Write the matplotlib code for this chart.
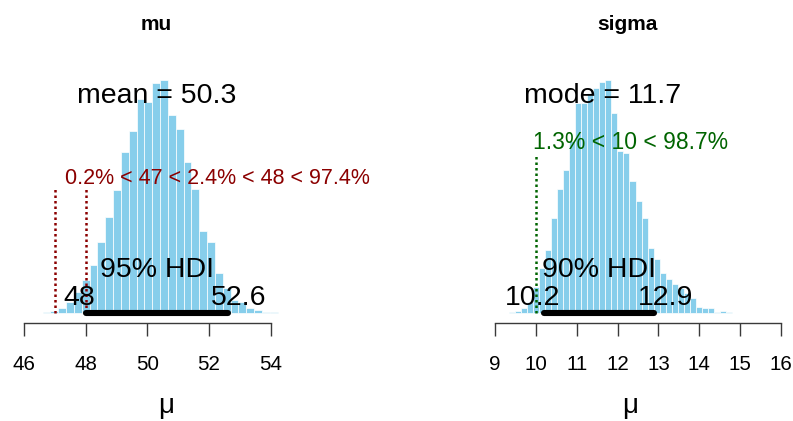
import numpy as np
import matplotlib
matplotlib.use("Agg")
import matplotlib.pyplot as plt

plt.rcParams['font.family'] = ['Liberation Sans', 'DejaVu Sans']

# ---------------- data ----------------
mu_bin_start = 46.60
mu_bin_width = 0.254
mu_heights = [1.3, 2.5, 5.5, 11, 21.5, 33, 48.3, 71.7, 96.7, 123.3,
              161.7, 182.3, 214, 211.7, 230.7, 233.3, 198.3, 184, 151.7, 124,
              82.3, 71.7, 40.7, 25, 13.3, 11.7, 5.7, 3.3, 1.7, 1.7]
mu_mean = 50.3
mu_hdi = [48.0, 52.6]
mu_comp = [47, 48]
mu_comp_text = "0.2% < 47 < 2.4% < 48 < 97.4%"
mu_ticks = [46, 48, 50, 52, 54]

sigma_bin_start = 9.33
sigma_bin_width = 0.148
sigma_heights = [1, 2.7, 5.3, 11, 26.5, 45, 63, 95.6, 124, 143.5,
                 172.6, 210, 210, 220.7, 225, 231, 233.3, 200, 162.6, 160,
                 132.6, 112.6, 95, 65, 54, 40, 34, 29, 25, 20,
                 15, 6.7, 5.6, 5, 1.7, 2.3, 1.7]
sigma_mode = 11.7
sigma_hdi = [10.2, 12.9]
sigma_comp = [10]
sigma_comp_text = "1.3% < 10 < 98.7%"
sigma_ticks = [9, 10, 11, 12, 13, 14, 15, 16]

W, H = 793, 421
fig = plt.figure(figsize=(W / 100, H / 100), dpi=100)

BAR = '#87CEEB'
AX_COL = '#3a3a3a'


def make_ax(left_px, width_px):
    bottom_px = 323.3
    ax = fig.add_axes([left_px / W, (H - bottom_px) / H, width_px / W, 300 / H])
    ax.set_ylim(-10, 290)
    for s in ('left', 'right', 'top'):
        ax.spines[s].set_visible(False)
    ax.spines['bottom'].set_color(AX_COL)
    ax.spines['bottom'].set_linewidth(1.0)
    ax.set_yticks([])
    ax.tick_params(axis='x', length=9.2, width=1.0, color=AX_COL,
                   labelsize=14.8, pad=13.5, labelcolor='black')
    ax.patch.set_alpha(0)
    return ax


def hist(ax, start, width, heights):
    edges = start + width * np.arange(len(heights) + 1)
    ax.bar(edges[:-1], heights, width=width, align='edge', color=BAR,
           edgecolor='white', linewidth=0.5, zorder=1)


def adj_text(ax, x, y, s, frac, **kw):
    t = ax.text(x, y, s, ha='left', va='baseline', **kw)
    r = fig.canvas.get_renderer()
    w = t.get_window_extent(r).width
    xd = ax.transData.transform((x, 0))[0] - frac * w
    t.set_x(ax.transData.inverted().transform((xd, 0))[0])
    return t


BIG = 20.5
MID = 15.5

# ---------------- mu panel ----------------
ax1 = make_ax(11.66, 271.4)
ax1.set_xlim(45.6, 54.4)
hist(ax1, mu_bin_start, mu_bin_width, mu_heights)
ax1.set_xticks(mu_ticks)
ax1.spines['bottom'].set_bounds(mu_ticks[0], mu_ticks[-1])
for c in mu_comp:
    ax1.plot([c, c], [0, 124], color='#8B0000', lw=1.8,
             linestyle=(0, (1, 1.2)), zorder=2)
ax1.plot(mu_hdi, [0, 0], color='black', lw=4.4, solid_capstyle='round', zorder=3)
ax1.text(mu_mean, 210.3, f"mean = {mu_mean}", ha='center', va='baseline', fontsize=BIG, zorder=4)
ax1.text(sum(mu_hdi) / 2, 36.6, "95% HDI", ha='center', va='baseline', fontsize=BIG, zorder=4)
adj_text(ax1, mu_hdi[0], 8.3, f"{mu_hdi[0]:g}", 0.7, fontsize=BIG, zorder=4)
adj_text(ax1, mu_hdi[1], 8.3, f"{mu_hdi[1]:g}", 0.3, fontsize=BIG, zorder=4)
ax1.text(47.33, 129.3, mu_comp_text, ha='left', va='baseline', fontsize=MID,
         color='#8B0000', zorder=4)

# ---------------- sigma panel ----------------
ax2 = make_ax(478.7, 318.7)
ax2.set_xlim(8.6, 16.4)
hist(ax2, sigma_bin_start, sigma_bin_width, sigma_heights)
ax2.set_xticks(sigma_ticks)
ax2.spines['bottom'].set_bounds(sigma_ticks[0], sigma_ticks[-1])
for c in sigma_comp:
    ax2.plot([c, c], [0, 158], color='#006400', lw=1.8,
             linestyle=(0, (1, 1.2)), zorder=2)
ax2.plot(sigma_hdi, [0, 0], color='black', lw=4.4, solid_capstyle='round', zorder=3)
ax2.text(11.63, 210.6, f"mode = {sigma_mode}", ha='center', va='baseline', fontsize=BIG, zorder=4)
ax2.text(sum(sigma_hdi) / 2, 36.6, "90% HDI", ha='center', va='baseline', fontsize=BIG, zorder=4)
adj_text(ax2, sigma_hdi[0], 8.3, f"{sigma_hdi[0]:g}", 0.7, fontsize=BIG, zorder=4)
adj_text(ax2, sigma_hdi[1], 8.3, f"{sigma_hdi[1]:g}", 0.3, fontsize=BIG, zorder=4)
ax2.text(9.93, 164, sigma_comp_text, ha='left', va='baseline', fontsize=16.5,
         color='#006400', zorder=4)

# ---------------- titles & labels ----------------
fig.text(156.5 / W, 1 - 24 / H, "mu", ha='center', va='center', fontsize=15, fontweight='bold')
fig.text(627 / W, 1 - 24 / H, "sigma", ha='center', va='center', fontsize=15, fontweight='bold')
fig.text(166.5 / W, 1 - 413 / H, "μ", ha='center', va='baseline', fontsize=20)
fig.text(630.5 / W, 1 - 413 / H, "μ", ha='center', va='baseline', fontsize=20)

fig.savefig("out.png", dpi=100)
